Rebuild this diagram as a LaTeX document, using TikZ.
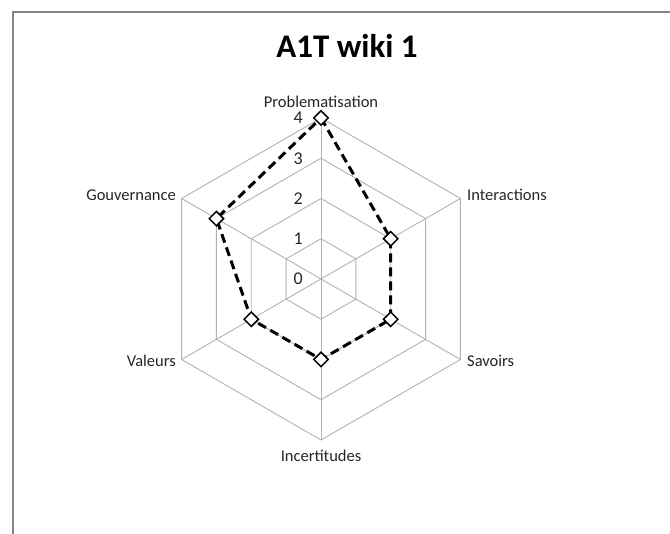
\documentclass[tikz,border=0pt]{standalone}
\usepackage{fontspec}
\setmainfont{Carlito}
\usepackage{xcolor}
\usetikzlibrary{shapes.geometric}

\begin{document}
\begin{tikzpicture}[
					x=1pt, y=1pt,
					gridline/.style={draw=gray!60, line width=0.9pt},
					frameline/.style={draw=gray!95, line width=2pt},
					axislabel/.style={font=\fontsize{16.5}{18}\selectfont, text=black!85, inner sep=1pt},
					ticklabel/.style={font=\fontsize{18}{20}\selectfont, text=black!85, anchor=east, inner sep=1pt},
					series/.style={draw=black, line width=3pt, dash pattern=on 9pt off 5pt},
					marker/.style={diamond, draw=black, fill=white, line width=1.5pt,
						minimum size=15pt, inner sep=0pt}
					]
					\useasboundingbox (0,0) rectangle (670,534);
					\draw[frameline] (12.5,0) -- (12.5,521.5) -- (670,521.5);
					\node[font=\fontsize{33}{36}\selectfont\bfseries] (title) at (347,488) {A1T wiki 1};
					\begin{scope}[shift={(321,255)}]
					% grid
					\foreach \r in {1,...,4}
						\draw[gridline] (90:\r*40.25) -- (30:\r*40.25) -- (-30:\r*40.25) -- (-90:\r*40.25)
							-- (-150:\r*40.25) -- (150:\r*40.25) -- cycle;
					\foreach \a in {90,30,-30,-90,-150,150}
						\draw[gridline] (0,0) -- (\a:161);
					\foreach \v in {0,...,4}
						\node[ticklabel] (tick\v) at (-17,\v*40.25) {\v};
					% axes
					\node[axislabel, anchor=south] (prob) at (0,170) {Problematisation};
					\node[axislabel, anchor=west] (inter) at (145,84) {Interactions};
					\node[axislabel, anchor=west] (sav) at (145,-82) {Savoirs};
					\node[axislabel, anchor=north] (incert) at (0,-170) {Incertitudes};
					\node[axislabel, anchor=east] (val) at (-144,-82) {Valeurs};
					\node[axislabel, anchor=east] (gouv) at (-144,84) {Gouvernance};
					% data
					\coordinate (pProb) at (90:4*40.25);
					\coordinate (pInter) at (30:2*40.25);
					\coordinate (pSav) at (-30:2*40.25);
					\coordinate (pIncert) at (-90:2*40.25);
					\coordinate (pVal) at (-150:2*40.25);
					\coordinate (pGouv) at (150:3*40.25);
					\draw[series] (pProb) -- (pInter) -- (pSav) -- (pIncert) -- (pVal) -- (pGouv) -- cycle;
					\foreach \p in {Prob,Inter,Sav,Incert,Val,Gouv}
						\node[marker] (m\p) at (p\p) {};
					\end{scope}
				\end{tikzpicture}
\end{document}
